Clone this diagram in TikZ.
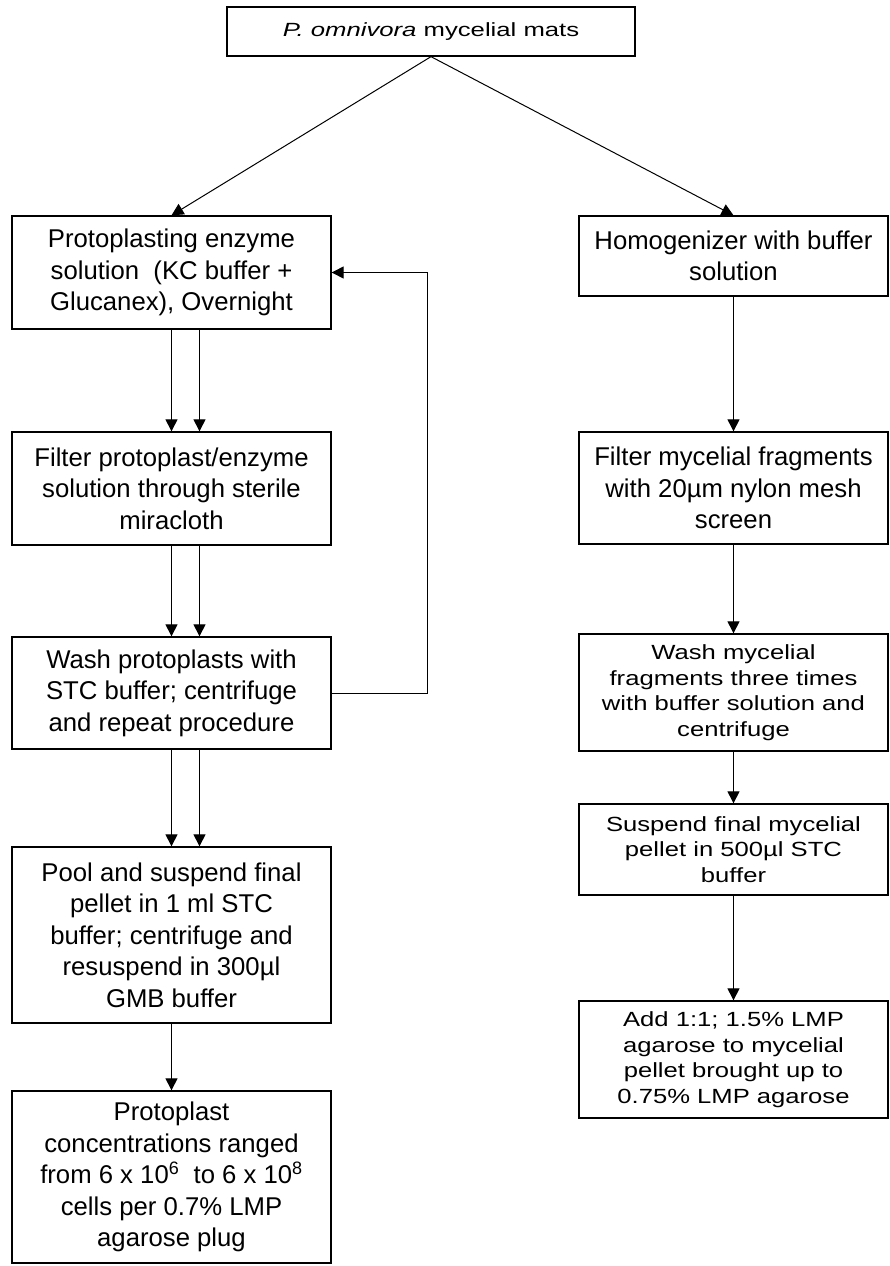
\documentclass[tikz,border=0pt]{standalone}
\usepackage{fontspec}
\setmainfont{Liberation Sans}
\usetikzlibrary{arrows.meta}

\begin{document}
\begin{tikzpicture}[x=1pt, y=-1pt,
        box/.style={draw, line width=1.3pt, align=center, inner sep=0pt,
            font=\fontsize{25.7}{31.5}\selectfont},
        squashbox/.style={box, font=\fontsize{20.5}{25.6}\selectfont\addfontfeatures{FakeStretch=1.25}},
        topbox/.style={box, font=\fontsize{19.1}{23}\selectfont\addfontfeatures{FakeStretch=1.345}},
        arr/.style={-{Triangle[length=12pt, width=12pt]}, line width=1pt}]
        \useasboundingbox (0,0) rectangle (890,1266);

        \node[topbox, minimum width=408, minimum height=49] (mats) at (431,31.5) {\textit{P. omnivora} mycelial mats};

        % protoplast column
        \begin{scope}[every node/.append style={minimum width=319}]
            \node[box, minimum height=113] (enzyme) at (171.5,272.5) {Protoplasting enzyme\\solution~ (KC buffer +\\Glucanex), Overnight};
            \node[box, minimum height=113] (filterP) at (171.5,488.5) {Filter protoplast/enzyme\\solution through sterile\\miracloth};
            \node[box, minimum height=112] (washP) at (171.5,693) {Wash protoplasts with\\STC buffer; centrifuge\\and repeat procedure};
            \node[box, minimum height=176] (pool) at (171.5,935) {Pool and suspend final\\pellet in 1 ml STC\\buffer; centrifuge and\\resuspend in 300µl\\GMB buffer};
            \node[box, minimum height=172] (conc) at (171.5,1177) {Protoplast\\concentrations ranged\\from 6 x 10\textsuperscript{6}\ \ to 6 x 10\textsuperscript{8}\\cells per 0.7\% LMP\\agarose plug};
        \end{scope}

        % mycelial fragment column
        \begin{scope}[every node/.append style={minimum width=309}]
            \node[box, minimum height=80] (homog) at (733.5,256) {Homogenizer with buffer\\solution};
            \node[box, minimum height=112] (filterM) at (733.5,488) {Filter mycelial fragments\\with 20µm nylon mesh\\screen};
            \node[squashbox, minimum height=117] (washM) at (733.5,692.5) {Wash mycelial\\fragments three times\\with buffer solution and\\centrifuge};
            \node[squashbox, minimum height=91] (suspend) at (733.5,849.5) {Suspend final mycelial\\pellet in 500µl STC\\buffer};
            \node[squashbox, minimum height=117] (agarose) at (733.5,1059.5) {Add 1:1; 1.5\% LMP\\agarose to mycelial\\pellet brought up to\\0.75\% LMP agarose};
        \end{scope}

        \draw[arr] (mats.south) -- (enzyme.north);
        \draw[arr] (mats.south) -- (homog.north);

        \draw[arr] (enzyme.south) -- (filterP.north);
        \draw[arr] ([xshift=28]enzyme.south) -- ([xshift=28]filterP.north);
        \draw[arr] (filterP.south) -- (washP.north);
        \draw[arr] ([xshift=28]filterP.south) -- ([xshift=28]washP.north);
        \draw[arr] (washP.south) -- (pool.north);
        \draw[arr] ([xshift=28]washP.south) -- ([xshift=28]pool.north);
        \draw[arr] (pool.south) -- (conc.north);
        \draw[arr] (washP.east) -- ++(96,0) |- (enzyme.east);

        \draw[arr] (homog.south) -- (filterM.north);
        \draw[arr] (filterM.south) -- (washM.north);
        \draw[arr] (washM.south) -- (suspend.north);
        \draw[arr] (suspend.south) -- (agarose.north);
\end{tikzpicture}
\end{document}
